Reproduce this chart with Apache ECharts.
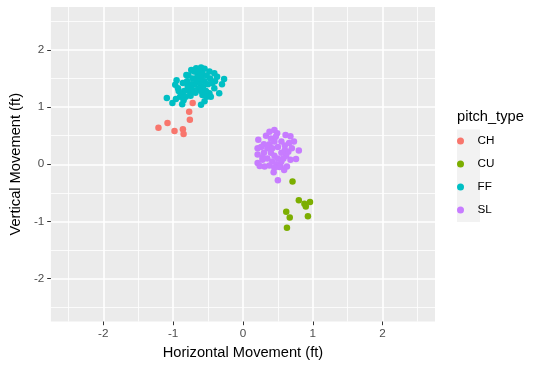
<!DOCTYPE html>
<html>
<head>
<meta charset="utf-8">
<script src="https://cdn.jsdelivr.net/npm/echarts@6/dist/echarts.min.js"></script>
<style>
html,body{margin:0;padding:0;background:#fff;}
#chart{width:538px;height:365px;}
</style>
</head>
<body>
<div id="chart"></div>
<script>
const pitchTypes = ['CH', 'CU', 'FF', 'SL'];
const colors = ['#F8766D', '#7CAE00', '#00BFC4', '#C77CFF'];
const majorTicks = [-2, -1, 0, 1, 2];
const minorTicks = [-2.5, -1.5, -0.5, 0.5, 1.5, 2.5];
const axisMin = -2.75;
const axisMax = 2.75;

const chPoints = [
  [-0.72, 1.07], [-0.77, 0.92], [-0.76, 0.78], [-1.08, 0.72],
  [-1.21, 0.64], [-0.98, 0.58], [-0.86, 0.61], [-0.85, 0.53]
];
const cuPoints = [
  [0.71, -0.30], [0.80, -0.63], [0.88, -0.69], [0.96, -0.66], [0.90, -0.74],
  [0.93, -0.91], [0.62, -0.83], [0.67, -0.93], [0.63, -1.11]
];
const ffPoints = [
  [-1.09, 1.16], [-1.01, 1.07], [-0.96, 1.14], [-0.90, 1.18], [-0.87, 1.05],
  [-0.95, 1.47], [-0.97, 1.39], [-0.93, 1.33], [-0.81, 1.56], [-0.74, 1.65],
  [-0.67, 1.68], [-0.60, 1.69], [-0.55, 1.67], [-0.48, 1.62], [-0.41, 1.59],
  [-0.37, 1.53], [-0.27, 1.49], [-0.30, 1.40], [-0.34, 1.24], [-0.41, 1.33],
  [-0.48, 1.24], [-0.46, 1.18], [-0.55, 1.10], [-0.60, 1.04], [-0.58, 1.21],
  [-0.76, 1.27], [-0.79, 1.36], [-0.86, 1.42], [-0.80, 1.45], [-0.72, 1.50],
  [-0.65, 1.55], [-0.58, 1.58], [-0.52, 1.55], [-0.47, 1.50], [-0.55, 1.45],
  [-0.62, 1.42], [-0.70, 1.40], [-0.78, 1.33], [-0.72, 1.30], [-0.64, 1.33],
  [-0.57, 1.35], [-0.50, 1.40], [-0.44, 1.42], [-0.60, 1.28], [-0.68, 1.25],
  [-0.84, 1.28], [-0.88, 1.22], [-0.82, 1.18], [-0.75, 1.20], [-0.70, 1.62],
  [-0.63, 1.62], [-0.78, 1.55], [-0.53, 1.28], [-0.40, 1.45], [-0.52, 1.18],
  [-0.85, 1.12], [-0.92, 1.28], [-0.66, 1.46], [-0.74, 1.40], [-0.60, 1.50]
];
const slPoints = [
  [0.22, 0.43], [0.21, 0.28], [0.21, 0.17], [0.21, 0.02], [0.28, 0.08],
  [0.38, 0.57], [0.45, 0.60], [0.49, 0.54], [0.61, 0.51], [0.68, 0.49],
  [0.73, 0.40], [0.66, 0.37], [0.80, 0.24], [0.76, 0.09], [0.68, 0.08],
  [0.63, -0.04], [0.59, -0.10], [0.54, -0.04], [0.44, -0.14], [0.50, -0.28],
  [0.31, -0.04], [0.24, -0.03], [0.30, 0.35], [0.35, 0.28], [0.40, 0.20],
  [0.45, 0.15], [0.50, 0.10], [0.55, 0.05], [0.35, 0.10], [0.42, 0.05],
  [0.48, 0.00], [0.55, 0.20], [0.60, 0.25], [0.62, 0.15], [0.50, 0.30],
  [0.45, 0.40], [0.40, 0.45], [0.55, 0.40], [0.30, 0.20], [0.28, 0.12],
  [0.38, 0.35], [0.52, -0.05], [0.60, 0.33], [0.33, 0.50], [0.47, 0.48],
  [0.65, 0.22], [0.70, 0.28], [0.38, -0.02], [0.45, -0.06], [0.58, 0.10],
  [0.26, 0.30], [0.42, 0.28]
];
const seriesPoints = { CH: chPoints, CU: cuPoints, FF: ffPoints, SL: slPoints };
const drawOrder = ['FF', 'SL', 'CU', 'CH'];

const FONT = "'Liberation Sans', Arial, Helvetica, sans-serif";

function majorAxis(name, nameGap) {
  return {
    type: 'value',
    min: axisMin,
    max: axisMax,
    name: name,
    nameLocation: 'middle',
    nameGap: nameGap,
    nameTextStyle: { color: '#000', fontSize: 14.67, fontFamily: FONT },
    axisLine: { show: false, onZero: false },
    axisTick: { show: true, customValues: majorTicks, length: 3.7, lineStyle: { color: '#333333', width: 1 } },
    axisLabel: { show: true, customValues: majorTicks, color: '#4D4D4D', fontSize: 11.7, fontFamily: FONT, margin: 6.6 },
    splitLine: { show: true, lineStyle: { color: '#FFFFFF', width: 1.6 } },
    minorTick: { show: false },
    minorSplitLine: { show: false }
  };
}
function minorAxis() {
  return {
    type: 'value',
    min: axisMin,
    max: axisMax,
    axisLine: { show: false, onZero: false },
    axisTick: { show: false, customValues: minorTicks },
    axisLabel: { show: false, customValues: minorTicks },
    splitLine: { show: true, lineStyle: { color: '#FFFFFF', width: 0.8 } },
    minorTick: { show: false },
    minorSplitLine: { show: false }
  };
}

const series = [];
drawOrder.forEach(t => {
  const i = pitchTypes.indexOf(t);
  series.push({
    type: 'scatter',
    name: t,
    data: seriesPoints[t],
    xAxisIndex: 0,
    yAxisIndex: 0,
    symbol: 'circle',
    symbolSize: 6.5,
    itemStyle: { color: colors[i], opacity: 1 },
    silent: true,
    z: 10
  });
});

const chart = echarts.init(document.getElementById('chart'), null, { renderer: 'canvas' });
chart.setOption({
  animation: false,
  backgroundColor: '#FFFFFF',
  color: colors,
  grid: {
    left: 41, right: 103, top: 7, bottom: 43,
    show: true, backgroundColor: '#EBEBEB', borderWidth: 0
  },
  xAxis: [majorAxis('Horizontal Movement (ft)', 22), minorAxis()],
  yAxis: [majorAxis('Vertical Movement (ft)', 26), minorAxis()],
  tooltip: { show: false },
  legend: {
    data: pitchTypes,
    orient: 'vertical',
    left: 457,
    top: 134,
    padding: 0,
    itemWidth: 24,
    itemHeight: 7,
    itemGap: 9,
    icon: 'circle',
    selectedMode: false,
    textStyle: { color: '#000', fontSize: 11.7, fontFamily: FONT, lineHeight: 14 }
  },
  graphic: [
    { type: 'rect', left: 457, top: 129.5, z: -1, shape: { width: 23, height: 92.5 }, style: { fill: '#F2F2F2' } },
    { type: 'text', x: 457, y: 117, style: { text: 'pitch_type', fill: '#000', font: '14.67px ' + FONT, verticalAlign: 'middle', align: 'left' } }
  ],
  series: series
});
</script>
</body>
</html>
